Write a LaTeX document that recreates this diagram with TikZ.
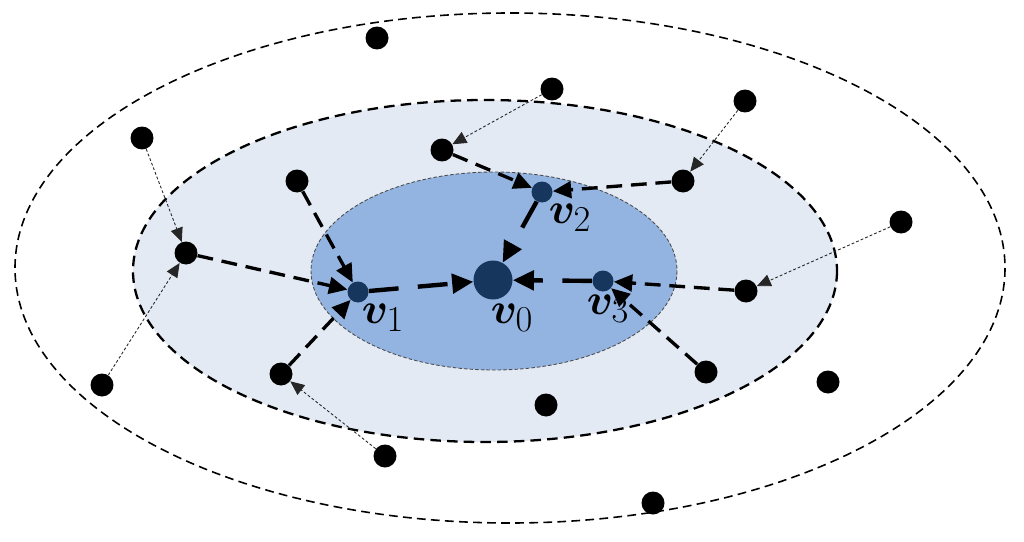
\documentclass[tikz,border=0pt]{standalone}
\usepackage{bm}
\usetikzlibrary{arrows.meta}
\definecolor{midfill}{HTML}{E4EAF3}
\definecolor{innfill}{HTML}{93B4E0}
\definecolor{vnode}{HTML}{17365D}
\begin{document}
\begin{tikzpicture}[x=0.02cm,y=-0.02cm,
  dot/.style={circle,fill=black,inner sep=0pt,minimum size=0.46cm},
  vdot/.style={circle,fill=vnode,inner sep=0pt,minimum size=0.42cm},
  thin arr/.style={draw=black!85,line width=0.5pt,dash pattern=on 1.6pt off 1.2pt,-{Triangle[length=8pt,width=7pt]}},
  thick arr/.style={draw=black,line width=1.9pt,dash pattern=on 9pt off 5pt,-{Triangle[length=10.5pt,width=9.5pt]}},
  core arr/.style={draw=black,line width=2.5pt,dash pattern=on 17pt off 11pt,-{Triangle[length=12pt,width=11pt]}},
  lab/.style={font=\fontsize{31}{33}\selectfont}
]
\useasboundingbox (0,0) rectangle (1024,541);
% ellipses
\draw[line width=0.9pt,dash pattern=on 5pt off 3pt] (510,268) ellipse [x radius=495, y radius=255];
\draw[fill=midfill,line width=1.3pt,dash pattern=on 6pt off 3.5pt] (485,271) ellipse [x radius=352, y radius=171];
\draw[fill=innfill,draw=black!70,line width=0.5pt,dash pattern=on 2pt off 1.2pt] (494,271) ellipse [x radius=183, y radius=99];
% black nodes
\node[dot] (A) at (377,38) {};
\node[dot] (B) at (552,89) {};
\node[dot] (C) at (745,101) {};
\node[dot] (D) at (142,138) {};
\node[dot] (E) at (442,150) {};
\node[dot] (F) at (683,181) {};
\node[dot] (G) at (297,181) {};
\node[dot] (H) at (901,222) {};
\node[dot] (I) at (186,253) {};
\node[dot] (J) at (746,291) {};
\node[dot] (K) at (102,385) {};
\node[dot] (L) at (281,374) {};
\node[dot] (M) at (706,372) {};
\node[dot] (N) at (828,382) {};
\node[dot] (O) at (546,405) {};
\node[dot] (P) at (385,456) {};
\node[dot] (Q) at (653,503) {};
% blue nodes
\node[vdot,minimum size=0.78cm] (v0) at (493,280) {};
\node[vdot] (v1) at (358,292) {};
\node[vdot] (v2) at (542,192) {};
\node[vdot] (v3) at (603,281) {};
% labels
\node[lab] (l1) at (383,318) {$\bm{v}_1$};
\node[lab] (l0) at (512,318) {$\bm{v}_0$};
\node[lab] (l3) at (608,309) {$\bm{v}_3$};
\node[lab] (l2) at (570,218) {$\bm{v}_2$};
% thin arrows
\draw[thin arr] (D) -- (I);
\draw[thin arr] (K) -- (I);
\draw[thin arr] (B) -- (E);
\draw[thin arr] (C) -- (F);
\draw[thin arr] (H) -- (J);
\draw[thin arr] (P) -- (L);
% thick dashed arrows
\draw[thick arr] (I) -- (v1);
\draw[thick arr] (G) -- (v1);
\draw[thick arr] (L) -- (v1);
\draw[thick arr] (E) -- (v2);
\draw[thick arr] (F) -- (v2);
\draw[thick arr] (J) -- (v3);
\draw[thick arr] (M) -- (v3);
% core arrows
\draw[core arr] (v1) -- (v0);
\draw[core arr] (v2) -- (v0);
\draw[core arr] (v3) -- (v0);
\end{tikzpicture}
\end{document}
